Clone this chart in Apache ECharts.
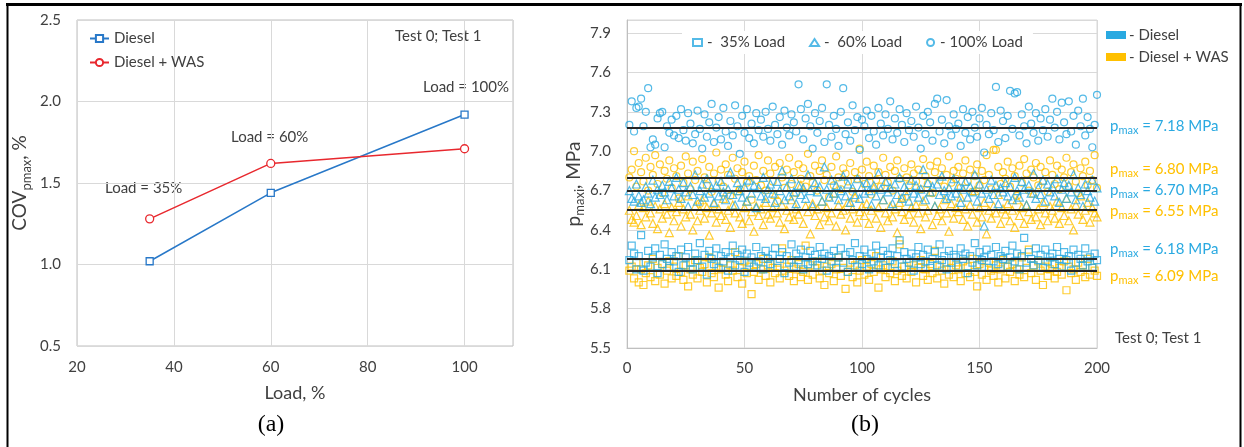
<!DOCTYPE html>
<html><head><meta charset="utf-8">
<script src="https://cdn.jsdelivr.net/npm/echarts@6/dist/echarts.min.js"></script>
<style>html,body{margin:0;padding:0;background:#fff}#c{width:1244px;height:447px}</style>
</head><body><div id="c"></div>
<script>
// ---------- Panel (a) ----------
const loads = [35, 60, 100];
const covDiesel = [1.02, 1.44, 1.92];
const covWAS = [1.28, 1.62, 1.71];
const loadLabels = ['Load = 35%', 'Load = 60%', 'Load = 100%'];

// ---------- Panel (b) ----------
const loadNames = ['35% Load', '60% Load', '100% Load'];
const meanDiesel = [6.18, 6.70, 7.18];
const meanWAS = [6.09, 6.55, 6.80];

const d35 = [
6.17,6.28,6.22,6.10,6.20,6.36,6.09,6.15,6.24,6.12,6.19,6.26,6.07,6.21,6.14,6.29,6.18,6.11,6.23,6.16,
6.20,6.08,6.25,6.13,6.19,6.27,6.15,6.10,6.22,6.17,6.30,6.12,6.21,6.06,6.24,6.18,6.14,6.26,6.11,6.20,
6.16,6.23,6.09,6.19,6.28,6.13,6.21,6.17,6.25,6.08,6.22,6.15,6.19,6.12,6.27,6.16,6.20,6.10,6.24,6.18,
6.14,6.21,6.26,6.11,6.18,6.23,6.07,6.20,6.15,6.29,6.12,6.22,6.17,6.25,6.10,6.19,6.14,6.24,6.16,6.21,
6.13,6.27,6.18,6.22,6.09,6.20,6.16,6.24,6.11,6.19,6.26,6.15,6.21,6.08,6.23,6.17,6.30,6.12,6.20,6.14,
6.25,6.18,6.10,6.22,6.16,6.28,6.13,6.19,6.24,6.11,6.21,6.17,6.26,6.14,6.20,6.32,6.12,6.23,6.18,6.15,
6.22,6.09,6.19,6.27,6.14,6.21,6.16,6.25,6.11,6.18,6.23,6.13,6.29,6.17,6.20,6.10,6.24,6.15,6.21,6.19,
6.12,6.26,6.18,6.22,6.07,6.20,6.15,6.30,6.13,6.23,6.17,6.19,6.25,6.11,6.21,6.16,6.27,6.14,6.20,6.18,
6.24,6.12,6.19,6.28,6.16,6.22,6.10,6.20,6.34,6.15,6.23,6.18,6.13,6.26,6.17,6.21,6.11,6.25,6.16,6.19,
6.22,6.14,6.27,6.18,6.12,6.23,6.17,6.20,6.09,6.25,6.15,6.21,6.18,6.13,6.26,6.16,6.19,6.11,6.22,6.17];

const w35 = [
6.09,6.12,6.03,6.15,6.00,6.10,5.98,6.07,6.13,6.04,6.18,6.01,6.11,6.06,6.14,5.99,6.09,6.16,6.03,6.12,
6.05,6.20,6.08,6.02,6.13,5.97,6.10,6.06,6.17,6.03,6.11,6.08,6.14,6.00,6.19,6.07,6.04,6.12,5.96,6.10,
6.15,6.06,6.01,6.13,6.09,6.23,6.04,6.11,5.99,6.16,6.07,6.12,5.91,6.08,6.14,6.02,6.10,6.18,6.05,6.13,
6.00,6.11,6.07,6.15,6.03,6.26,6.09,6.12,6.05,6.17,6.01,6.10,6.14,6.04,6.08,6.28,6.02,6.13,6.06,6.11,
6.16,6.03,6.09,5.98,6.12,6.07,6.14,6.01,6.10,6.19,6.05,6.11,5.95,6.08,6.15,6.04,6.13,6.00,6.09,6.17,
6.06,6.12,6.02,6.14,6.08,6.20,5.96,6.10,6.13,6.04,6.11,6.07,6.16,6.01,6.09,6.29,6.05,6.12,6.03,6.15,
6.08,6.13,6.00,6.11,6.17,6.05,6.10,6.02,6.14,6.07,6.24,6.03,6.12,6.09,5.99,6.15,6.06,6.11,6.04,6.13,
6.10,6.01,6.16,6.07,6.12,6.04,6.18,6.08,5.97,6.14,6.06,6.11,6.02,6.15,6.09,6.05,6.13,6.00,6.10,6.17,
6.03,6.12,6.08,6.14,6.01,6.10,6.06,6.19,6.04,6.11,6.25,6.07,6.13,6.02,6.16,6.09,5.98,6.12,6.05,6.10,
6.14,6.03,6.08,6.11,6.06,6.16,5.94,6.12,6.07,6.10,6.02,6.15,6.08,6.13,6.04,6.18,6.06,6.11,6.09,6.05];

const d60 = [
6.70,6.64,6.62,6.75,6.66,6.61,6.63,6.73,6.68,6.60,6.78,6.65,6.71,6.67,6.74,6.69,6.63,6.77,6.72,6.66,
6.80,6.71,6.64,6.76,6.69,6.58,6.73,6.67,6.82,6.62,6.70,6.75,6.65,6.79,6.68,6.72,6.61,6.74,6.66,6.77,
6.69,6.63,6.71,6.84,6.67,6.59,6.76,6.70,6.65,6.73,6.62,6.78,6.68,6.74,6.57,6.72,6.66,6.80,6.64,6.71,
6.75,6.68,6.61,6.77,6.70,6.85,6.63,6.73,6.66,6.79,6.69,6.60,6.74,6.67,6.72,6.64,6.82,6.70,6.58,6.76,
6.69,6.73,6.62,6.88,6.71,6.65,6.78,6.68,6.74,6.63,6.70,6.81,6.66,6.75,6.61,6.72,6.67,6.79,6.64,6.73,
6.68,6.76,6.70,6.59,6.74,6.66,6.83,6.71,6.63,6.77,6.69,6.72,6.60,6.75,6.67,6.80,6.64,6.73,6.70,6.62,
6.78,6.68,6.74,6.65,6.71,6.86,6.63,6.76,6.69,6.73,6.58,6.75,6.67,6.81,6.70,6.64,6.72,6.66,6.79,6.68,
6.74,6.61,6.71,6.77,6.65,6.73,6.69,6.82,6.62,6.75,6.68,6.43,6.71,6.64,6.78,6.67,6.74,6.60,6.72,6.69,
6.76,6.66,6.73,6.63,6.80,6.70,6.65,6.77,6.71,6.59,6.74,6.68,6.83,6.64,6.72,6.67,6.78,6.62,6.75,6.69,
6.73,6.66,6.79,6.61,6.71,6.76,6.64,6.74,6.69,6.82,6.63,6.72,6.67,6.58,6.75,6.70,6.65,6.78,6.62,6.72];

const w60 = [
6.55,6.48,6.46,6.51,6.59,6.44,6.57,6.50,6.62,6.53,6.45,6.58,6.41,6.56,6.49,6.60,6.52,6.38,6.57,6.47,
6.54,6.61,6.43,6.56,6.50,6.66,6.52,6.40,6.58,6.47,6.55,6.63,6.49,6.57,6.36,6.53,6.60,6.46,6.56,6.51,
6.64,6.48,6.55,6.42,6.59,6.53,6.70,6.50,6.45,6.57,6.62,6.47,6.54,6.39,6.58,6.51,6.56,6.44,6.61,6.52,
6.49,6.57,6.67,6.53,6.46,6.59,6.41,6.55,6.50,6.63,6.48,6.56,6.52,6.74,6.45,6.58,6.54,6.37,6.60,6.51,
6.56,6.44,6.62,6.50,6.57,6.47,6.53,6.68,6.43,6.59,6.52,6.55,6.40,6.61,6.49,6.56,6.65,6.46,6.54,6.58,
6.51,6.60,6.45,6.55,6.72,6.49,6.57,6.42,6.63,6.53,6.47,6.58,6.50,6.56,6.38,6.61,6.54,6.48,6.66,6.52,
6.57,6.46,6.59,6.53,6.41,6.62,6.50,6.55,6.69,6.44,6.58,6.51,6.56,6.47,6.63,6.53,6.39,6.60,6.49,6.57,
6.54,6.65,6.48,6.56,6.43,6.59,6.52,6.70,6.46,6.57,6.50,6.61,6.37,6.55,6.49,6.58,6.53,6.67,6.45,6.56,
6.52,6.60,6.47,6.55,6.42,6.63,6.51,6.57,6.45,6.59,6.54,6.48,6.68,6.50,6.56,6.44,6.61,6.53,6.47,6.58,
6.55,6.49,6.62,6.45,6.57,6.51,6.64,6.47,6.56,6.40,6.59,6.52,6.66,6.48,6.55,6.61,6.46,6.57,6.53,6.50];

const d100 = [
7.20,7.38,7.15,7.33,7.34,7.40,7.19,7.30,7.48,7.03,7.09,7.05,7.25,7.29,7.30,7.03,7.19,7.14,7.24,7.12,
7.27,7.10,7.32,7.16,7.08,7.29,7.21,7.06,7.13,7.31,7.17,7.02,7.28,7.11,7.22,7.36,7.07,7.18,7.26,7.09,
7.33,7.15,7.04,7.23,7.12,7.35,7.19,6.98,7.27,7.14,7.32,7.10,7.21,7.06,7.29,7.16,7.24,7.11,7.30,7.17,
7.08,7.34,7.20,7.13,7.26,7.05,7.31,7.18,7.12,7.28,7.22,7.15,7.51,7.32,7.09,7.25,7.36,7.19,7.02,7.29,
7.14,7.23,7.33,7.07,7.51,7.20,7.11,7.27,7.17,7.04,7.30,7.48,7.13,7.22,7.08,7.35,7.16,7.26,7.01,7.24,
7.19,7.31,7.10,7.27,7.15,7.05,7.33,7.21,7.12,7.28,7.17,7.38,7.09,7.25,7.14,7.32,7.20,7.07,7.29,7.16,
7.23,7.11,7.34,7.18,7.02,7.27,7.13,7.30,7.22,7.08,7.36,7.40,7.15,7.24,7.06,7.39,7.19,7.12,7.28,7.17,
7.21,7.04,7.32,7.14,7.26,7.09,7.30,7.18,7.11,7.25,7.33,6.99,7.20,7.13,7.29,7.16,7.49,7.07,7.31,7.23,
7.10,7.27,7.46,7.17,7.44,7.45,7.12,7.28,7.19,7.06,7.34,7.21,7.14,7.29,7.08,7.25,7.16,7.32,7.11,7.24,
7.40,7.18,7.30,7.09,7.37,7.22,7.13,7.38,7.15,7.27,7.05,7.31,7.19,7.40,7.12,7.26,7.17,7.03,7.20,7.43];

const w100 = [
6.80,6.86,7.00,6.73,6.91,6.84,6.77,6.95,6.70,6.88,6.82,6.97,6.75,6.90,6.68,6.85,6.79,6.93,6.72,6.87,
6.81,6.64,6.89,6.76,6.96,6.83,6.71,6.92,6.78,6.85,6.60,6.94,6.80,6.74,6.88,6.69,6.83,6.99,6.77,6.86,
6.73,6.90,6.82,6.66,6.95,6.79,6.87,6.71,6.84,6.92,6.76,6.81,6.63,6.89,6.78,6.97,6.74,6.85,6.70,6.93,
6.83,6.77,6.88,6.62,6.91,6.80,6.72,6.86,6.95,6.75,6.84,6.68,6.90,6.79,6.87,6.73,6.98,6.81,6.76,6.89,
6.70,6.85,6.93,6.78,6.82,6.65,6.88,6.74,6.96,6.80,6.71,6.87,6.83,6.77,6.91,6.69,6.84,6.79,7.02,6.86,
6.75,6.92,6.81,6.67,6.89,6.78,6.84,6.73,6.95,6.82,6.76,6.88,6.70,6.85,6.93,6.79,6.64,6.87,6.80,6.74,
6.90,6.83,6.77,6.86,6.71,6.94,6.81,6.75,6.89,6.68,6.84,6.92,6.78,6.87,6.73,6.82,6.96,6.76,6.85,6.79,
6.88,6.72,6.83,6.93,6.77,6.86,6.69,6.81,6.90,6.74,6.85,6.78,6.97,6.82,6.71,7.01,7.01,6.88,6.75,6.84,
6.79,6.92,6.73,6.87,6.81,6.66,6.89,6.76,6.94,6.83,6.70,6.86,6.80,6.91,6.74,6.88,6.77,6.84,6.69,6.93,
6.82,6.75,6.89,6.71,6.86,6.80,6.95,6.73,6.84,6.90,6.77,6.68,6.87,6.81,6.92,6.74,6.85,6.78,6.97,6.72];

const BLUE = '#29A9E1', ORANGE = '#FFC000', TXT = '#404040';
const FONT = 'Lato, "Liberation Sans", sans-serif';

const toXY = arr => arr.map((v, i) => [i + 1, v]);
const pair = (xs, ys) => xs.map((x, i) => [x, ys[i]]);

function scatter(name, data, color, symbol, mean, z) {
  return {
    type: 'scatter', name, xAxisIndex: 1, yAxisIndex: 1, data: toXY(data),
    symbol, symbolSize: symbol === 'triangle' ? 8 : 7, z,
    itemStyle: { color: 'rgba(255,255,255,0)', borderColor: color, borderWidth: 1.2 },
    markLine: {
      silent: true, symbol: ['none', 'none'], label: { show: false },
      lineStyle: { color: '#262626', width: 2, type: 'solid' },
      data: [{ yAxis: mean }]
    }
  };
}

const sub = (main, s, rest, size, color) => ({
  text: `{a|${main}}{b|${s}}{a|${rest}}`,
  rich: {
    a: { fontSize: size, fontFamily: FONT, fill: color, color },
    b: { fontSize: Math.round(size * 0.72), fontFamily: FONT, fill: color, color, padding: [Math.round(size * 0.6), 0, 0, 0] }
  }
});

const pmaxItems = [
  [meanDiesel[2], BLUE, 126], [meanWAS[2], ORANGE, 169], [meanDiesel[1], BLUE, 190],
  [meanWAS[1], ORANGE, 211], [meanDiesel[0], BLUE, 249], [meanWAS[0], ORANGE, 276]
];

const graphics = [
  { type: 'line', shape: { x1: 6, y1: 4.5, x2: 1242, y2: 4.5 }, style: { stroke: '#000', lineWidth: 3 } },
  { type: 'line', shape: { x1: 7.5, y1: 4, x2: 7.5, y2: 447 }, style: { stroke: '#000', lineWidth: 2 } },
  { type: 'line', shape: { x1: 1240.5, y1: 4, x2: 1240.5, y2: 447 }, style: { stroke: '#000', lineWidth: 2 } },
  { type: 'text', x: 395, y: 36, style: { text: 'Test 0; Test 1', font: `15px ${FONT}`, fill: TXT, verticalAlign: 'middle' } },
  { type: 'text', x: 105, y: 188, style: { text: loadLabels[0], font: `15px ${FONT}`, fill: TXT, verticalAlign: 'middle' } },
  { type: 'text', x: 231, y: 137, style: { text: loadLabels[1], font: `15px ${FONT}`, fill: TXT, verticalAlign: 'middle' } },
  { type: 'text', x: 423, y: 87, style: { text: loadLabels[2], font: `15px ${FONT}`, fill: TXT, verticalAlign: 'middle' } },
  { type: 'text', x: 271, y: 425, style: { text: '(a)', font: `24px "Liberation Serif", serif`, fill: '#000', align: 'center', verticalAlign: 'middle' } },
  { type: 'text', x: 865, y: 425, style: { text: '(b)', font: `24px "Liberation Serif", serif`, fill: '#000', align: 'center', verticalAlign: 'middle' } },
  { type: 'text', x: 1115, y: 338, style: { text: 'Test 0; Test 1', font: `15px ${FONT}`, fill: TXT, verticalAlign: 'middle' } },
  { type: 'rect', shape: { x: 1106, y: 31, width: 20, height: 8 }, style: { fill: BLUE } },
  { type: 'text', x: 1129, y: 35, style: { text: '- Diesel', font: `15px ${FONT}`, fill: TXT, verticalAlign: 'middle' } },
  { type: 'rect', shape: { x: 1106, y: 53, width: 20, height: 8 }, style: { fill: ORANGE } },
  { type: 'text', x: 1129, y: 57, style: { text: '- Diesel + WAS', font: `15px ${FONT}`, fill: TXT, verticalAlign: 'middle' } }
];
pmaxItems.forEach(([v, c, y]) => {
  const s = sub('p', 'max', ` = ${v.toFixed(2)} MPa`, 15, c);
  graphics.push({ type: 'text', x: 1110, y, style: { text: s.text, rich: s.rich, verticalAlign: 'middle', fill: c } });
});

const axisLabelStyle = { color: TXT, fontSize: 15, fontFamily: FONT };
const gridLine = { show: true, lineStyle: { color: '#d9d9d9', width: 1 } };

const chart = echarts.init(document.getElementById('c'), null, { renderer: 'canvas' });
chart.setOption({
  animation: false,
  backgroundColor: '#fff',
  textStyle: { fontFamily: FONT },
  grid: [
    { left: 77, top: 20, width: 436, height: 326, show: true, borderColor: '#bfbfbf', borderWidth: 1, backgroundColor: 'transparent' },
    { left: 627, top: 20, width: 470, height: 328, show: true, borderColor: '#d9d9d9', borderWidth: 1, backgroundColor: 'transparent' }
  ],
  legend: [
    {
      left: 84, top: 26, orient: 'vertical', itemWidth: 19, itemHeight: 9, itemGap: 9,
      data: ['Diesel', 'Diesel + WAS'], textStyle: { color: TXT, fontSize: 15, fontFamily: FONT }
    },
    {
      left: 682, top: 31, itemWidth: 9, itemHeight: 7, itemGap: 24, padding: [4, 10, 4, 10],
      backgroundColor: '#fff', data: loadNames,
      formatter: n => n === '100% Load' ? '- ' + n : '-  ' + n,
      textStyle: { color: TXT, fontSize: 15, fontFamily: FONT }
    }
  ],
  xAxis: [
    {
      gridIndex: 0, type: 'value', min: 20, max: 110, interval: 20,
      axisLine: { show: false }, axisTick: { show: false }, splitLine: gridLine,
      axisLabel: { ...axisLabelStyle, margin: 14, showMaxLabel: false },
      name: 'Load, %', nameLocation: 'middle', nameGap: 38,
      nameTextStyle: { color: TXT, fontSize: 18, fontFamily: FONT }
    },
    {
      gridIndex: 1, type: 'value', min: 0, max: 200, interval: 50,
      axisLine: { show: true, lineStyle: { color: '#bfbfbf' } }, axisTick: { show: false }, splitLine: gridLine,
      axisLabel: { ...axisLabelStyle, margin: 13 },
      name: 'Number of cycles', nameLocation: 'middle', nameGap: 38,
      nameTextStyle: { color: TXT, fontSize: 18, fontFamily: FONT }
    }
  ],
  yAxis: [
    {
      gridIndex: 0, type: 'value', min: 0.5, max: 2.5, interval: 0.5,
      axisLine: { show: false }, axisTick: { show: false }, splitLine: gridLine,
      axisLabel: { ...axisLabelStyle, margin: 16, formatter: v => v.toFixed(1) },
      name: '{a|COV}{b|pmax}{a|, %}', nameLocation: 'middle', nameGap: 44, nameRotate: 90,
      nameTextStyle: {
        rich: {
          a: { fontSize: 19, color: TXT, fontFamily: FONT },
          b: { fontSize: 13, color: TXT, fontFamily: FONT, padding: [13, 0, 0, 0] }
        }
      }
    },
    {
      gridIndex: 1, type: 'value', min: 5.5, max: 8.0, interval: 0.3,
      axisLine: { show: true, lineStyle: { color: '#bfbfbf' } }, axisTick: { show: false }, splitLine: gridLine,
      axisLabel: { ...axisLabelStyle, margin: 16, showMaxLabel: false, formatter: v => v.toFixed(1) },
      name: '{a|p}{b|maxi}{a|, MPa}', nameLocation: 'middle', nameGap: 38, nameRotate: 90,
      nameTextStyle: {
        rich: {
          a: { fontSize: 19, color: TXT, fontFamily: FONT },
          b: { fontSize: 13, color: TXT, fontFamily: FONT, padding: [12, 0, 0, 0] }
        }
      }
    }
  ],
  series: [
    {
      type: 'line', name: 'Diesel', xAxisIndex: 0, yAxisIndex: 0, data: pair(loads, covDiesel),
      symbol: 'rect', symbolSize: 7, lineStyle: { color: '#2878C8', width: 1.5 },
      itemStyle: { color: '#fff', borderColor: '#2878C8', borderWidth: 1.3 }
    },
    {
      type: 'line', name: 'Diesel + WAS', xAxisIndex: 0, yAxisIndex: 0, data: pair(loads, covWAS),
      symbol: 'circle', symbolSize: 8, lineStyle: { color: '#E8282E', width: 1.5 },
      itemStyle: { color: '#fff', borderColor: '#E8282E', borderWidth: 1.3 }
    },
    scatter('WAS ' + loadNames[0], w35, ORANGE, 'rect', meanWAS[0], 2),
    scatter(loadNames[0], d35, BLUE, 'rect', meanDiesel[0], 3),
    scatter('WAS ' + loadNames[1], w60, ORANGE, 'triangle', meanWAS[1], 2),
    scatter(loadNames[1], d60, BLUE, 'triangle', meanDiesel[1], 3),
    scatter('WAS ' + loadNames[2], w100, ORANGE, 'circle', meanWAS[2], 2),
    scatter(loadNames[2], d100, BLUE, 'circle', meanDiesel[2], 3)
  ],
  graphic: graphics
});
</script></body></html>
